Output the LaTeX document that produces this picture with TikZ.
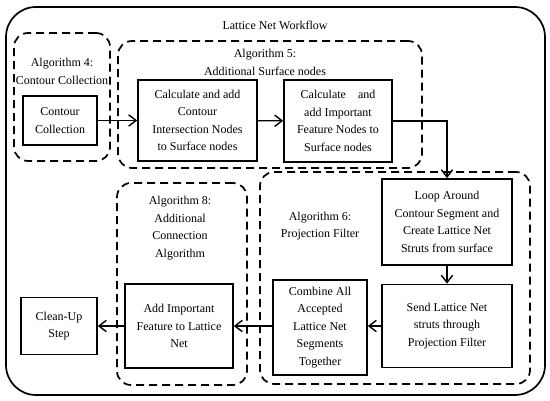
\documentclass[tikz,border=0pt]{standalone}
\usepackage{fontspec}
\setmainfont{Liberation Serif}
\usetikzlibrary{positioning,arrows.meta}
\tikzset{
  flowarrow/.style={-{Straight Barb[length=2.6mm,width=4mm]}, line width=1.4pt},
  stepbox/.style={draw, line width=1.6pt, align=center, inner sep=0pt},
  algzone/.style={draw, dash pattern=on 8pt off 5pt, line width=1.7pt, rounded corners=14pt, inner sep=0pt},
  zonelabel/.style={align=center}
}

\begin{document}
\begin{tikzpicture}[x=1pt, y=-1pt, every node/.style={font=\fontsize{12}{17.5}\selectfont}]
      \useasboundingbox (0,0) rectangle (550,401);
      \node[draw, line width=1.7pt, rounded corners=30pt, minimum width=539pt, minimum height=388pt] (frame) at (275.5,201) {};
      \node (title) at (275,25) {Lattice Net Workflow};
      % dashed algorithm zones
      \node[algzone, minimum width=96pt, minimum height=128pt] (alg4) at (62,97) {};
      \node[algzone, minimum width=304pt, minimum height=127pt] (alg5) at (270,104.5) {};
      \node[algzone, minimum width=270pt, minimum height=212pt] (alg6) at (395,278) {};
      \node[algzone, minimum width=130pt, minimum height=202pt] (alg8) at (182,284) {};
      \node[zonelabel] (alg4lbl) at (62,71.5) {Algorithm 4:\\Contour Collection};
      \node[zonelabel] (alg5lbl) at (265,62.5) {Algorithm 5:\\Additional Surface nodes};
      \node[zonelabel] (alg6lbl) at (320,226) {Algorithm 6:\\Projection Filter};
      \node[zonelabel] (alg8lbl) at (180,228) {Algorithm 8:\\Additional\\Connection\\Algorithm};
      % steps
      \node[stepbox, minimum width=74pt, minimum height=49pt] (contour) at (60,120.5) {Contour\\Collection};
      \node[stepbox, minimum width=119pt, minimum height=81pt] (intersect) at (197.5,120.5) {Calculate and add\\Contour\\Intersection Nodes\\to Surface nodes};
      \node[stepbox, minimum width=108pt, minimum height=82pt] (feature) at (338,121) {Calculate\quad and\\add Important\\Feature Nodes to\\Surface nodes};
      \node[stepbox, minimum width=130pt, minimum height=86pt] (loop) at (447,222) {Loop Around\\Contour Segment and\\Create Lattice Net\\Struts from surface};
      \node[stepbox, minimum width=130pt, minimum height=83pt] (send) at (447,326) {Send Lattice Net\\struts through\\Projection Filter};
      \node[stepbox, minimum width=94pt, minimum height=95pt] (combine) at (320,327.5) {Combine All\\Accepted\\Lattice Net\\Segments\\Together};
      \node[stepbox, minimum width=108pt, minimum height=84pt] (addfeat) at (179,326) {Add Important\\Feature to Lattice\\Net};
      \node[stepbox, minimum width=76pt, minimum height=57pt] (cleanup) at (59,326) {Clean-Up\\Step};
      \draw[flowarrow] (contour) -- (intersect);
      \draw[flowarrow] (intersect) -- (feature);
      \draw[flowarrow] (feature.east) -| (loop.north);
      \draw[flowarrow] (loop) -- (send);
      \draw[flowarrow] (send.west) -- (send.west -| combine.east);
      \draw[flowarrow] (combine.west |- addfeat.east) -- (addfeat.east);
      \draw[flowarrow] (addfeat) -- (cleanup);
    \end{tikzpicture}
\end{document}
